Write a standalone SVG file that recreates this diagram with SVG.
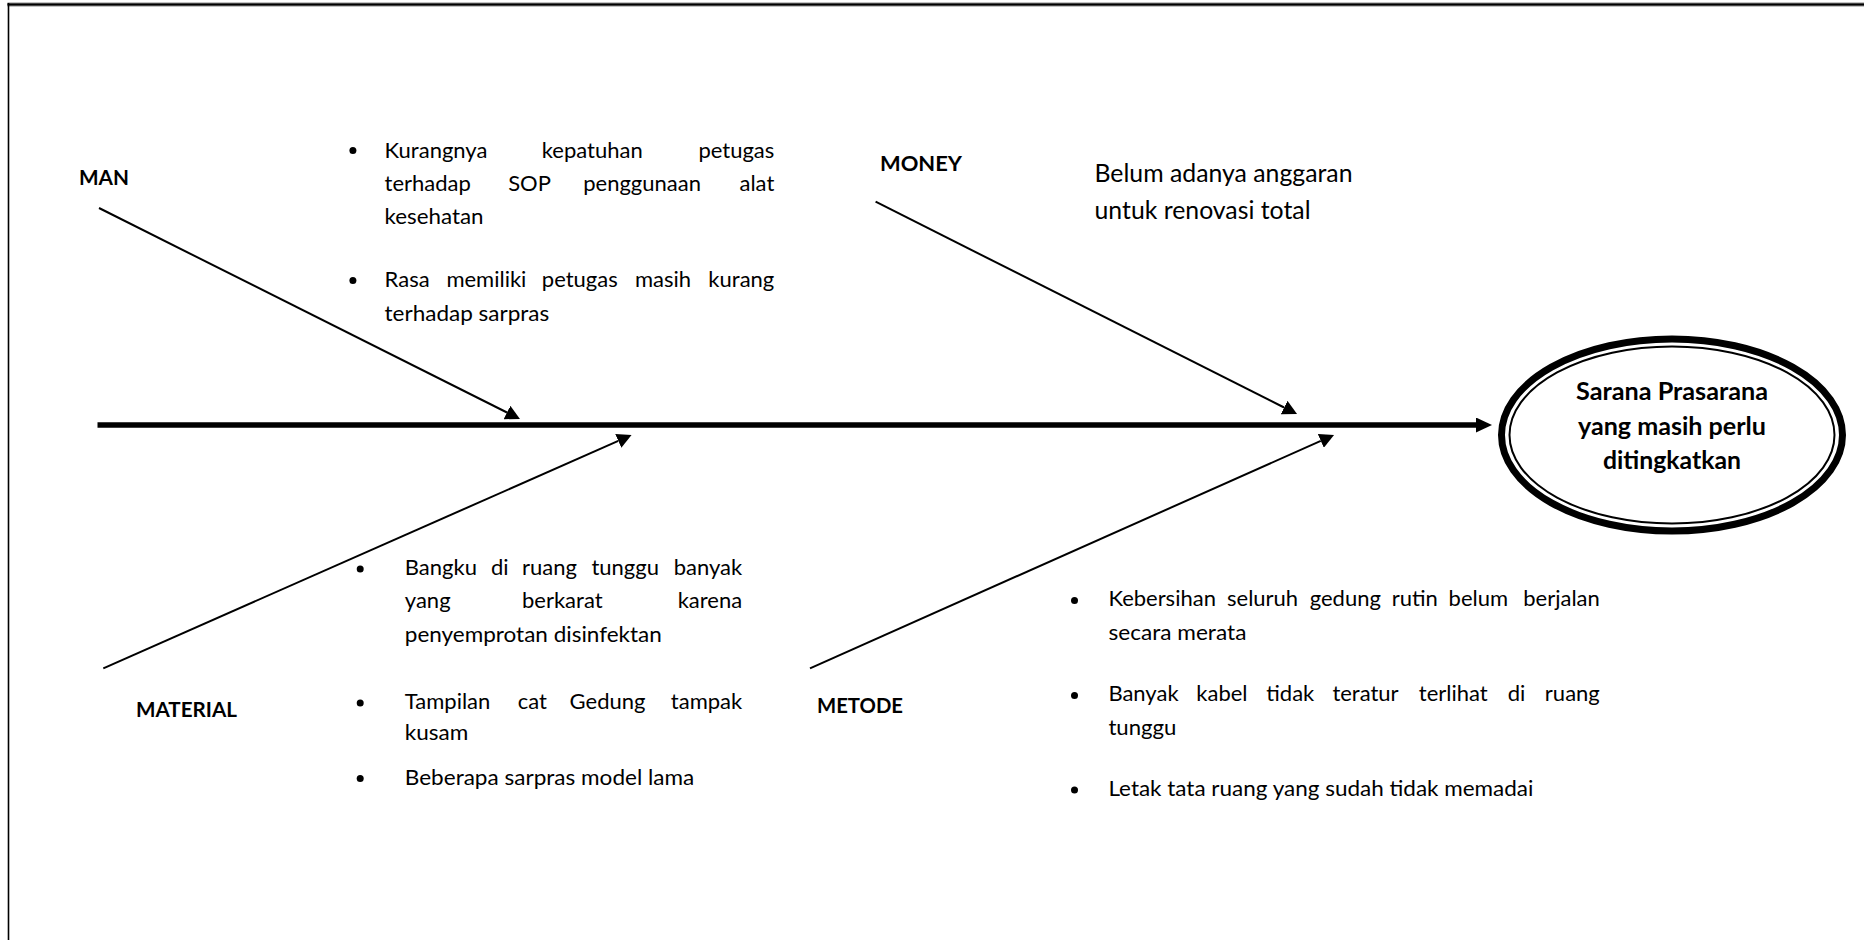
<svg xmlns="http://www.w3.org/2000/svg" width="1864" height="940" viewBox="0 0 1864 940">
<style>
  text{font-family:Lato,"Liberation Sans",sans-serif;fill:#000}
  .lbl{font-weight:bold;font-size:21px}
  .txt{font-size:22px}
  .big{font-size:25px}
  .title{font-weight:bold;font-size:24px;text-anchor:middle}
  .end{text-anchor:end}
  .br{stroke:#000;stroke-width:2;fill:none}
  .spine{stroke:#000;stroke-width:5.3;fill:none}
  .dot{fill:#000}
</style>
<defs>
  <marker id="ah" markerUnits="userSpaceOnUse" viewBox="0 0 15 15" markerWidth="15" markerHeight="15" refX="0" refY="7.5" orient="auto">
    <path d="M0,0 L14.5,7.5 L0,15 z" fill="#000"/>
  </marker>
  <marker id="ahs" markerUnits="userSpaceOnUse" viewBox="0 0 16 15" markerWidth="16" markerHeight="15" refX="0" refY="7.5" orient="auto">
    <path d="M0,0 L16,7.5 L0,15 z" fill="#000"/>
  </marker>
</defs>
<rect width="1864" height="940" fill="#fff"/>
<g id="frame">
  <line x1="7.5" y1="4.5" x2="1864" y2="4.5" stroke="#888" stroke-width="4"/>
  <line x1="7.5" y1="4.5" x2="1864" y2="4.5" stroke="#000" stroke-width="2"/>
  <line x1="8.5" y1="3" x2="8.5" y2="940" stroke="#000" stroke-width="1.6"/>
</g>
<g id="connectors">
  <path class="spine" d="M97.5,425 L1476,425" marker-end="url(#ahs)"/>
  <path class="br" d="M99,208 L507,412.5" marker-end="url(#ah)"/>
  <path class="br" d="M875.6,201.7 L1284.1,407.5" marker-end="url(#ah)"/>
  <path class="br" d="M103.3,668.3 L618.3,440.9" marker-end="url(#ah)"/>
  <path class="br" d="M810,668.3 L1320.8,440.9" marker-end="url(#ah)"/>
</g>
<g id="effect">
  <ellipse cx="1672" cy="435" rx="170.5" ry="96" fill="#fff" stroke="#000" stroke-width="7"/>
  <ellipse cx="1672" cy="435" rx="162.5" ry="88.5" fill="none" stroke="#000" stroke-width="2"/>
  <text class="title" x="1672" y="400" textLength="192" lengthAdjust="spacingAndGlyphs">Sarana Prasarana</text>
  <text class="title" x="1672" y="434.5" textLength="188" lengthAdjust="spacingAndGlyphs">yang masih perlu</text>
  <text class="title" x="1672" y="469" textLength="138" lengthAdjust="spacingAndGlyphs">ditingkatkan</text>
</g>
<g id="man">
  <text class="lbl" x="79" y="185" textLength="50" lengthAdjust="spacingAndGlyphs">MAN</text>
  <circle class="dot" cx="352.9" cy="150.5" r="3.5"/>
  <text class="txt" y="157.5"><tspan x="384.6">Kurangnya</tspan><tspan x="541.8">kepatuhan</tspan></text>
  <text class="txt end" x="774.3" y="157.5">petugas</text>
  <text class="txt" y="190.5"><tspan x="384.6">terhadap</tspan><tspan x="508.2">SOP</tspan><tspan x="583.2">penggunaan</tspan></text>
  <text class="txt end" x="774.3" y="190.5">alat</text>
  <text class="txt" x="384.6" y="223.5" textLength="99" lengthAdjust="spacingAndGlyphs">kesehatan</text>
  <circle class="dot" cx="352.9" cy="280.5" r="3.5"/>
  <text class="txt" y="287"><tspan x="384.6">Rasa</tspan><tspan x="446.4">memiliki</tspan><tspan x="541.8">petugas</tspan><tspan x="635">masih</tspan></text>
  <text class="txt end" x="774.3" y="287">kurang</text>
  <text class="txt" x="384.6" y="321" textLength="164.6" lengthAdjust="spacingAndGlyphs">terhadap sarpras</text>
</g>
<g id="money">
  <text class="lbl" x="880" y="170.7" textLength="82" lengthAdjust="spacingAndGlyphs">MONEY</text>
  <text class="big" x="1094.5" y="182" textLength="258" lengthAdjust="spacingAndGlyphs">Belum adanya anggaran</text>
  <text class="big" x="1094.5" y="219" textLength="216" lengthAdjust="spacingAndGlyphs">untuk renovasi total</text>
</g>
<g id="material">
  <text class="lbl" x="136" y="717" textLength="101" lengthAdjust="spacingAndGlyphs">MATERIAL</text>
  <circle class="dot" cx="360.2" cy="569" r="3.5"/>
  <text class="txt" y="575"><tspan x="404.8">Bangku</tspan><tspan x="491">di</tspan><tspan x="522">ruang</tspan><tspan x="591.4">tunggu</tspan></text>
  <text class="txt end" x="742.2" y="575">banyak</text>
  <text class="txt" y="608"><tspan x="404.8">yang</tspan><tspan x="522">berkarat</tspan></text>
  <text class="txt end" x="742.2" y="608">karena</text>
  <text class="txt" x="404.8" y="642" textLength="257" lengthAdjust="spacingAndGlyphs">penyemprotan disinfektan</text>
  <circle class="dot" cx="360.2" cy="703" r="3.5"/>
  <text class="txt" y="709"><tspan x="404.8">Tampilan</tspan><tspan x="517.7">cat</tspan><tspan x="569.6">Gedung</tspan></text>
  <text class="txt end" x="742.2" y="709">tampak</text>
  <text class="txt" x="404.8" y="740" textLength="63.5" lengthAdjust="spacingAndGlyphs">kusam</text>
  <circle class="dot" cx="360.2" cy="778.5" r="3.5"/>
  <text class="txt" x="404.8" y="784.5" textLength="289.5" lengthAdjust="spacingAndGlyphs">Beberapa sarpras model lama</text>
</g>
<g id="metode">
  <text class="lbl" x="817" y="713" textLength="86" lengthAdjust="spacingAndGlyphs">METODE</text>
  <circle class="dot" cx="1074.5" cy="600.5" r="3.5"/>
  <text class="txt" y="606.3"><tspan x="1108.4">Kebersihan</tspan><tspan x="1227">seluruh</tspan><tspan x="1309.7">gedung</tspan><tspan x="1391.8">rutin</tspan><tspan x="1448.6">belum</tspan></text>
  <text class="txt end" x="1599.8" y="606.3">berjalan</text>
  <text class="txt" x="1108.4" y="639.7" textLength="138" lengthAdjust="spacingAndGlyphs">secara merata</text>
  <circle class="dot" cx="1074.5" cy="695.5" r="3.5"/>
  <text class="txt" y="701.3"><tspan x="1108.4">Banyak</tspan><tspan x="1196.3">kabel</tspan><tspan x="1266.3">tidak</tspan><tspan x="1332.4">teratur</tspan><tspan x="1418.8">terlihat</tspan><tspan x="1507.8">di</tspan></text>
  <text class="txt end" x="1599.8" y="701.3">ruang</text>
  <text class="txt" x="1108.4" y="734.7" textLength="68" lengthAdjust="spacingAndGlyphs">tunggu</text>
  <circle class="dot" cx="1074.5" cy="790" r="3.5"/>
  <text class="txt" x="1108.4" y="796.3" textLength="425" lengthAdjust="spacingAndGlyphs">Letak tata ruang yang sudah tidak memadai</text>
</g>
</svg>
